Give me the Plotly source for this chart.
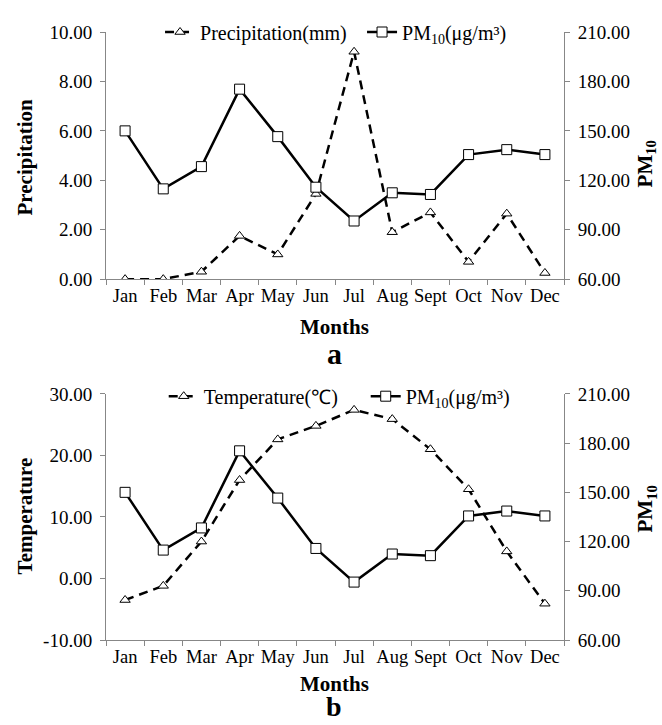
import plotly.graph_objects as go
from plotly.subplots import make_subplots

months = ["Jan", "Feb", "Mar", "Apr", "May", "Jun", "Jul", "Aug", "Sept", "Oct", "Nov", "Dec"]
precipitation = [0.0, 0.0, 0.3, 1.75, 1.0, 3.45, 9.2, 1.9, 2.7, 0.7, 2.65, 0.25]
temperature = [-3.5, -1.2, 6.0, 16.0, 22.6, 24.8, 27.4, 25.9, 21.0, 14.5, 4.4, -4.1]
pm10 = [150.0, 114.8, 128.3, 175.3, 146.5, 115.8, 95.3, 112.4, 111.4, 135.6, 138.6, 135.6]

precip_ticks = [0, 2, 4, 6, 8, 10]
temp_ticks = [-10, 0, 10, 20, 30]
pm_ticks = [60, 90, 120, 150, 180, 210]

FONT = "Liberation Serif, Times New Roman, serif"
AXC = "#878787"

fig = make_subplots(rows=2, cols=1, specs=[[{"secondary_y": True}], [{"secondary_y": True}]])

dash_style = dict(color="black", width=2.5, dash="9px,6px")
solid_style = dict(color="black", width=2.5)
tri = dict(symbol="triangle-up", size=9, color="white", line=dict(color="black", width=1))
sq = dict(symbol="square", size=10, color="white", line=dict(color="black", width=1))

fig.add_trace(go.Scatter(x=months, y=precipitation, mode="lines+markers", name="Precipitation(mm)",
                         line=dash_style, marker=tri, legend="legend"), row=1, col=1, secondary_y=False)
fig.add_trace(go.Scatter(x=months, y=pm10, mode="lines+markers", name="PM<sub>10</sub>(μg/m³)",
                         line=solid_style, marker=sq, legend="legend"), row=1, col=1, secondary_y=True)
fig.add_trace(go.Scatter(x=months, y=temperature, mode="lines+markers", name="Temperature(℃)",
                         line=dash_style, marker=tri, legend="legend2"), row=2, col=1, secondary_y=False)
fig.add_trace(go.Scatter(x=months, y=pm10, mode="lines+markers", name="PM<sub>10</sub>(μg/m³)",
                         line=solid_style, marker=sq, legend="legend2"), row=2, col=1, secondary_y=True)

top_dom = [0.5935, 1.0]
bot_dom = [0.0, 0.4048]

xcommon = dict(type="category", range=[-0.5, 11.5], showline=True, linecolor=AXC, linewidth=1,
               ticks="outside", tickson="boundaries", ticklen=5, tickcolor=AXC, showgrid=False,
               tickangle=0, tickfont=dict(size=18.5, color="black", family=FONT))
ycommon = dict(showline=True, linecolor=AXC, linewidth=1, ticks="outside", ticklen=5, tickcolor=AXC,
               showgrid=False, zeroline=False, tickfont=dict(size=19, color="black", family=FONT),
               ticklabelstandoff=4)

fig.update_layout(
    xaxis=dict(**xcommon, domain=[0, 1]),
    xaxis2=dict(**xcommon, domain=[0, 1]),
    yaxis=dict(**ycommon, domain=top_dom, range=[0, 10], tickvals=precip_ticks,
               ticktext=[f"{v:.2f}" for v in precip_ticks]),
    yaxis2=dict(**ycommon, range=[60, 210], tickvals=pm_ticks, ticktext=[f"{v:.2f}" for v in pm_ticks]),
    yaxis3=dict(**ycommon, domain=bot_dom, range=[-10, 30], tickvals=temp_ticks,
                ticktext=[f"{v:.2f}" for v in temp_ticks]),
    yaxis4=dict(**ycommon, range=[60, 210], tickvals=pm_ticks, ticktext=[f"{v:.2f}" for v in pm_ticks]),
)

fig.update_layout(
    width=662, height=725,
    margin=dict(l=106, r=98, t=20, b=85),
    paper_bgcolor="white", plot_bgcolor="white",
    font=dict(family=FONT, color="black"),
    legend=dict(orientation="h", x=0.118, y=1.0, xanchor="left", yanchor="middle",
                font=dict(size=20, family=FONT), bgcolor="rgba(0,0,0,0)", itemwidth=30,
                entrywidth=157, traceorder="normal"),
    legend2=dict(orientation="h", x=0.126, y=0.401, xanchor="left", yanchor="middle",
                 font=dict(size=20, family=FONT), bgcolor="rgba(0,0,0,0)", itemwidth=30,
                 entrywidth=157, traceorder="normal"),
)

ann = []
def px_to_paper_y(py):
    return (640 - py) / 620
def px_to_paper_x(px):
    return (px - 106) / 458

ann.append(dict(text="<b>Precipitation</b>", x=px_to_paper_x(25), y=px_to_paper_y(148), textangle=-90,
                font=dict(size=21)))
ann.append(dict(text="<b>Temperature</b>", x=px_to_paper_x(25), y=px_to_paper_y(514), textangle=-90,
                font=dict(size=21)))
ann.append(dict(text="<b>PM<sub>10</sub></b>", x=px_to_paper_x(646), y=px_to_paper_y(155), textangle=-90,
                font=dict(size=21)))
ann.append(dict(text="<b>PM<sub>10</sub></b>", x=px_to_paper_x(646), y=px_to_paper_y(507), textangle=-90,
                font=dict(size=21)))
ann.append(dict(text="<b>Months</b>", x=px_to_paper_x(334), y=px_to_paper_y(321), font=dict(size=21)))
ann.append(dict(text="<b>a</b>", x=px_to_paper_x(334), y=px_to_paper_y(348), font=dict(size=30)))
ann.append(dict(text="<b>Months</b>", x=px_to_paper_x(334), y=px_to_paper_y(685), font=dict(size=21)))
ann.append(dict(text="<b>b</b>", x=px_to_paper_x(334), y=px_to_paper_y(708), font=dict(size=28)))
for a in ann:
    a.update(xref="paper", yref="paper", showarrow=False, xanchor="center", yanchor="middle")
    a["font"]["family"] = FONT
    a["font"]["color"] = "black"
fig.update_layout(annotations=ann)

fig.write_html("out.html")
